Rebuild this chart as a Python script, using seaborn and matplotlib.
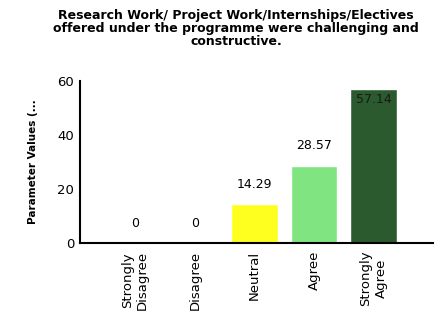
import pandas as pd
import matplotlib
matplotlib.use("Agg")
import matplotlib.pyplot as plt
import seaborn as sns

categories = ["Strongly\nDisagree", "Disagree", "Neutral", "Agree", "Strongly\nAgree"]
values = [0, 0, 14.29, 28.57, 57.14]
labels = ["0", "0", "14.29", "28.57", "57.14"]
colors = ["#d9d9d9", "#d9d9d9", "#ffff1f", "#80e580", "#2b5a2e"]

df = pd.DataFrame({"category": categories, "value": values})

sns.set_style("white")
plt.rcParams["font.family"] = ["DejaVu Sans"]

fig = plt.figure(figsize=(4.41, 3.33), dpi=100)
ax = fig.add_axes([0.181, 0.27, 0.801, 0.487])

sns.barplot(data=df, x="category", y="value", hue="category", palette=colors,
            legend=False, width=0.78, ax=ax, saturation=1)

for i, (v, t) in enumerate(zip(values, labels)):
    if v > 50:
        ax.text(i, v - 1.5, t, ha="center", va="top", fontsize=9, color="#1a1a1a")
    else:
        ax.text(i, v + 5, t, ha="center", va="bottom", fontsize=9, color="black")

ax.set_xlim(-0.93, 5.0)
ax.set_ylim(0, 60)
ax.set_yticks([0, 20, 40, 60])
ax.tick_params(axis="y", labelsize=9.5, length=2, pad=2, colors="black")
ax.tick_params(axis="x", labelsize=9.5, length=2, rotation=90, colors="black")
for lab in ax.get_xticklabels():
    lab.set_ha("center")
ax.set_xlabel("")
ax.set_ylabel("Parameter Values (...", fontsize=7.5, fontweight="bold", labelpad=14, color="black")
sns.despine(ax=ax)
ax.spines["left"].set_linewidth(1.5)
ax.spines["bottom"].set_linewidth(1.5)
ax.spines["left"].set_color("black")
ax.spines["bottom"].set_color("black")

fig.suptitle("Research Work/ Project Work/Internships/Electives\noffered under the programme were challenging and\nconstructive.",
             x=0.535, y=0.972, fontsize=9, fontweight="bold", linespacing=1.0, color="black")

fig.savefig("out.png", dpi=100)
